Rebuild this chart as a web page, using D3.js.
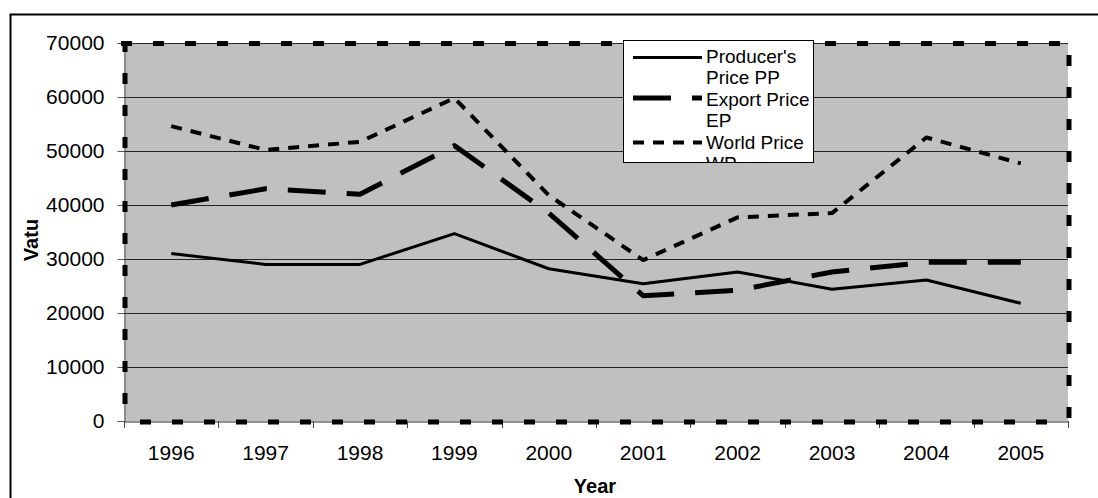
<!DOCTYPE html>
<html><head><meta charset="utf-8">
<script src="https://cdn.jsdelivr.net/npm/d3@7"></script>
<style>html,body{margin:0;padding:0;background:#fff;overflow:hidden}svg{display:block}text{font-family:Arial,"Liberation Sans",sans-serif;fill:#000}</style>
</head><body>
<script>
const years = ["1996","1997","1998","1999","2000","2001","2002","2003","2004","2005"];
const producerPrice = [31000, 29000, 29000, 34700, 28200, 25400, 27600, 24400, 26100, 21800];
const exportPrice   = [40000, 43000, 42000, 51000, 38500, 23200, 24200, 27600, 29400, 29400];
const worldPrice    = [54600, 50200, 51700, 59800, 41800, 29800, 37700, 38500, 52500, 47700];
const yTicks = [0, 10000, 20000, 30000, 40000, 50000, 60000, 70000];
const seriesNames = [["Producer's","Price PP"],["Export Price","EP"],["World Price","WP"]];

const W = 1098, H = 498;
const L = 124, R = 1068, T = 43, B = 421;
const svg = d3.select("body").append("svg").attr("width", W).attr("height", H);

// outer chart border (cropped at right/bottom)
svg.append("rect").attr("x", 10.5).attr("y", 14.5).attr("width", 1200).attr("height", 600)
  .attr("fill", "none").attr("stroke", "#000").attr("stroke-width", 2);

const x = d3.scaleBand().domain(years).range([L, R]).padding(0);
const y = d3.scaleLinear().domain([0, 70000]).range([B, T]);

// plot area
svg.append("rect").attr("x", L).attr("y", T).attr("width", R - L).attr("height", B - T).attr("fill", "#c0c0c0");

// gridlines
svg.append("g").selectAll("line").data(yTicks.filter(d => d > 0)).join("line")
  .attr("x1", L).attr("x2", R)
  .attr("y1", d => Math.round(y(d)) + 0.5).attr("y2", d => Math.round(y(d)) + 0.5)
  .attr("stroke", "#222").attr("stroke-width", 1);

// y axis
const yAxis = svg.append("g").attr("transform", `translate(${L + 0.5},0)`)
  .call(d3.axisLeft(y).tickValues(yTicks).tickSize(7).tickPadding(13).tickFormat(d3.format("d")));
yAxis.select(".domain").attr("stroke", "#555");
yAxis.selectAll(".tick line").attr("stroke", "#555");
yAxis.selectAll("text").attr("font-size", 21).attr("font-family", "Arial, 'Liberation Sans', sans-serif").attr("fill", "#000");

// x axis
const xAxis = svg.append("g").attr("transform", `translate(0,${B + 0.5})`)
  .call(d3.axisBottom(x).tickSize(0).tickPadding(24));
xAxis.select(".domain").attr("stroke", "#222");
xAxis.selectAll("text").attr("font-size", 21).attr("font-family", "Arial, 'Liberation Sans', sans-serif").attr("fill", "#000");
// ticks between categories
const bounds = years.map(d => x(d)).concat([R]);
svg.append("g").selectAll("line").data(bounds).join("line")
  .attr("x1", d => Math.round(d) + 0.5).attr("x2", d => Math.round(d) + 0.5)
  .attr("y1", B).attr("y2", B + 7).attr("stroke", "#444");

// axis titles
svg.append("text").attr("x", 595).attr("y", 493).attr("text-anchor", "middle")
  .attr("font-size", 20).attr("font-weight", "bold").text("Year");
svg.append("text").attr("transform", "translate(38,240) rotate(-90)").attr("text-anchor", "middle")
  .attr("font-size", 20).attr("font-weight", "bold").text("Vatu");

// lines
const line = d3.line().x((d, i) => x(years[i]) + x.bandwidth() / 2).y(d => y(d));
const styles = [
  {data: producerPrice, width: 3, dash: null},
  {data: exportPrice, width: 5, dash: "38,21"},
  {data: worldPrice, width: 4, dash: "11,9"}
];
styles.forEach(s => {
  svg.append("path").datum(s.data).attr("d", line).attr("fill", "none")
    .attr("stroke", "#000").attr("stroke-width", s.width)
    .attr("stroke-dasharray", s.dash).attr("stroke-linejoin", "round");
});

// dashed plot border
const bd = svg.append("g").attr("stroke", "#000").attr("stroke-width", 5).attr("stroke-dasharray", "11,21");
bd.append("line").attr("x1", L - 3).attr("y1", T + 0.5).attr("x2", R).attr("y2", T + 0.5);
bd.append("line").attr("x1", L + 1).attr("y1", T - 2).attr("x2", L + 1).attr("y2", B);
bd.append("line").attr("x1", L + 16).attr("y1", B + 1).attr("x2", R).attr("y2", B + 1);
bd.append("line").attr("x1", R + 1).attr("y1", T + 12).attr("x2", R + 1).attr("y2", B + 2);

// legend
const lx = 623, ly = 40, lw = 190, lh = 122;
svg.append("defs").append("clipPath").attr("id", "lclip").append("rect")
  .attr("x", lx).attr("y", ly).attr("width", lw).attr("height", lh);
svg.append("rect").attr("x", lx + 0.5).attr("y", ly + 0.5).attr("width", lw).attr("height", lh)
  .attr("fill", "#fff").attr("stroke", "#000").attr("stroke-width", 1);
const lg = svg.append("g").attr("clip-path", "url(#lclip)");
const sampleY = [57.5, 98, 142.5];
const baseY = [62.5, 105.5, 148.5];
styles.forEach((s, i) => {
  lg.append("line").attr("x1", 633).attr("x2", 702).attr("y1", sampleY[i]).attr("y2", sampleY[i])
    .attr("stroke", "#000").attr("stroke-width", s.width).attr("stroke-dasharray", s.dash);
  seriesNames[i].forEach((t, j) => {
    lg.append("text").attr("x", 706).attr("y", baseY[i] + j * 21).attr("font-size", 19).text(t);
  });
});
</script>
</body></html>
